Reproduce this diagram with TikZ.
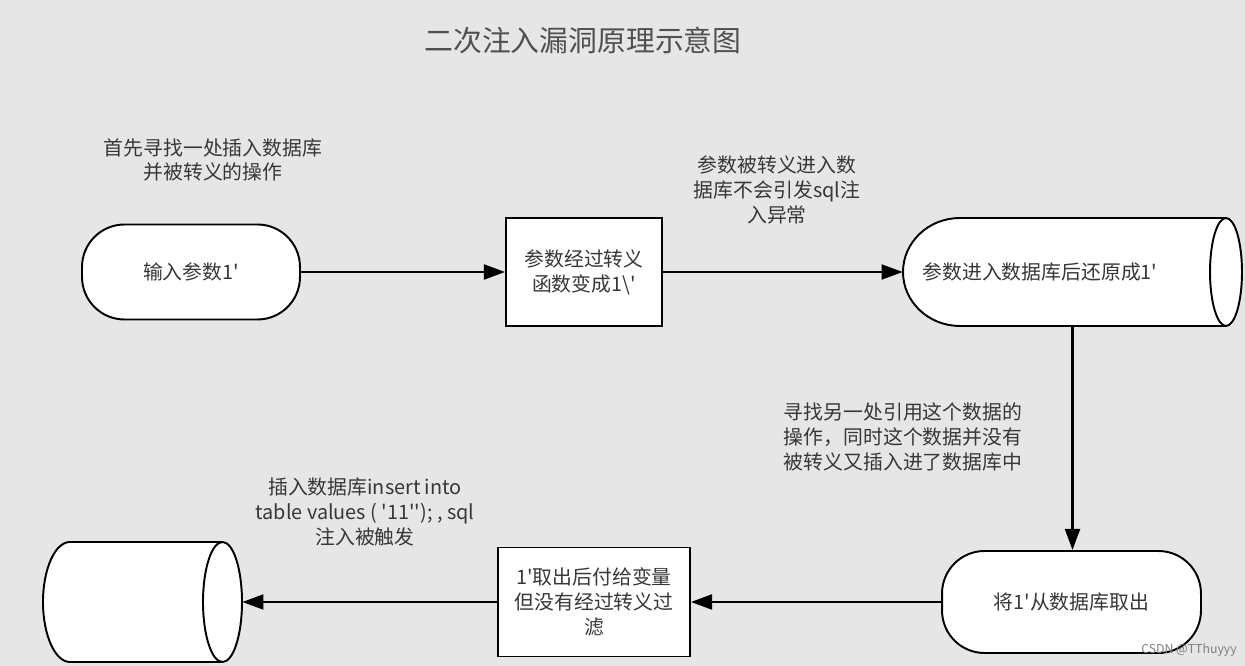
\documentclass[tikz,border=0pt]{standalone}
\usepackage{fontspec}
\newfontfamily\cjk{Noto Sans CJK SC}
\usetikzlibrary{arrows.meta}
\definecolor{bgray}{RGB}{230,230,230}
\definecolor{txt}{RGB}{55,55,55}
\definecolor{ttl}{RGB}{80,80,80}

\begin{document}
\begin{tikzpicture}[
    x=0.02cm, y=0.02cm,
    every node/.style={font=\cjk\fontsize{11.3}{14.2}\selectfont, text=txt},
    term/.style={draw, fill=white, line width=1.1pt, rounded corners=0.85cm},
    proc/.style={draw, fill=white, line width=1.1pt},
    dbbox/.style={inner sep=0pt},
    note/.style={align=center},
    flow/.style={line width=1.3pt, -{Triangle[length=12pt,width=8.5pt]}},
    outline/.style={draw, fill=white, line width=1.1pt}
]

% Background
\fill[bgray] (0,0) rectangle (1245,666);

% Title
\node[font=\cjk\fontsize{16.4}{20}\selectfont, text=ttl] (t0) at (583,626) {二次注入漏洞原理示意图};

% Top row
\node[term, minimum width=4.36cm, minimum height=1.9cm] (n1) at (191,394) {输入参数1'};
\node[proc, minimum width=3.12cm, minimum height=2.16cm, align=center] (n2) at (584,394) {参数经过转义\\函数变成1\textbackslash'};
\node[dbbox, minimum width=6.78cm, minimum height=2.16cm] (db1) at (1072.5,394) {};
\draw[outline] (960,448) -- (1226,448) arc[start angle=90, end angle=-90, x radius=16, y radius=54]
  -- (960,340) arc[start angle=270, end angle=90, x radius=57, y radius=54] -- cycle;
\draw[line width=1.1pt] (1226,448) arc[start angle=90, end angle=270, x radius=16, y radius=54];
\node (db1txt) at (1040,394) {参数进入数据库后还原成1'};

% Bottom row
\node[term, minimum width=5.18cm, minimum height=2.04cm] (n4) at (1071.5,64) {将1'从数据库取出};
\node[proc, minimum width=3.84cm, minimum height=2.18cm, align=center] (n5) at (594,64) {1'取出后付给变量\\但没有经过转义过\\滤};
\node[dbbox, minimum width=3.98cm, minimum height=2.4cm] (db2) at (142.5,64) {};
\draw[outline] (70,124) -- (222.5,124) arc[start angle=90, end angle=-90, x radius=19.5, y radius=60]
  -- (70,4) arc[start angle=270, end angle=90, x radius=27, y radius=60] -- cycle;
\draw[line width=1.1pt] (222.5,124) arc[start angle=90, end angle=270, x radius=19.5, y radius=60];

% Notes
\node[note] (t1) at (213,506) {首先寻找一处插入数据库\\并被转义的操作};
\node[note] (t2) at (777,476) {参数被转义进入数\\据库不会引发sql注\\入异常};
\node[note] (t3) at (903,229) {寻找另一处引用这个数据的\\操作，同时这个数据并没有\\被转义又插入进了数据库中};
\node[note] (t4) at (365,154) {插入数据库insert into\\table values ( '11''); , sql\\注入被触发};
\node[font=\cjk\fontsize{7}{8}\selectfont, text=gray] (wm) at (1189,16) {CSDN @TThuyyy};

% Edges
\draw[flow] (n1) -- (n2);
\draw[flow] (n2) -- (db1);
\draw[flow] (db1.south) -- (db1.south |- n4.north);
\draw[flow] (n4) -- (n5);
\draw[flow] (n5) -- (db2);

\end{tikzpicture}
\end{document}
